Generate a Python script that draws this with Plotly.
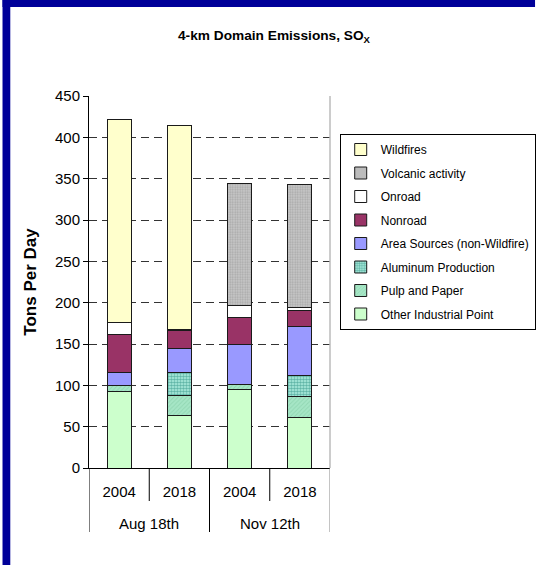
import plotly.graph_objects as go

# ---- data ----
groups = ["Aug 18th", "Aug 18th", "Nov 12th", "Nov 12th"]
years = ["2004", "2018", "2004", "2018"]

other_industrial = [93, 63, 94.5, 60.5]
pulp_paper = [7, 25, 7, 25.5]
aluminum = [0, 28, 0, 26]
area_sources = [16, 29, 48, 59.5]
nonroad = [45, 21, 32, 19.5]
onroad = [14.5, 2, 15, 3.5]
volcanic = [0, 0, 148, 148]
wildfires = [246, 246, 0, 0]

y_ticks = [0, 50, 100, 150, 200, 250, 300, 350, 400, 450]

series = [
    ("Other Industrial Point", other_industrial, dict(color="#CCFFCC")),
    ("Pulp and Paper", pulp_paper, dict(color="#99DDBB",
        pattern=dict(shape="/", size=3, solidity=0.3, fgcolor="#7CC8A0", bgcolor="#A6E6C6"))),
    ("Aluminum Production", aluminum, dict(color="#33AA99",
        pattern=dict(shape=".", size=3, solidity=0.6, fgcolor="#0E7A6A", bgcolor="#B4F2E4"))),
    ("Area Sources (non-Wildfire)", area_sources, dict(color="#9999FF")),
    ("Nonroad", nonroad, dict(color="#993366")),
    ("Onroad", onroad, dict(color="#FFFFFF")),
    ("Volcanic activity", volcanic, dict(color="#BBBBBB",
        pattern=dict(shape=".", size=2.5, solidity=0.45, fgcolor="#888888", bgcolor="#C8C8C8"))),
    ("Wildfires", wildfires, dict(color="#FFFFCC")),
]

FONT = "Arial, Liberation Sans, sans-serif"

# category positions on the x scale
xpos = list(range(len(years)))
group_names = list(dict.fromkeys(groups))
group_centers = [sum(i for i, g in enumerate(groups) if g == name) /
                 groups.count(name) for name in group_names]

fig = go.Figure()
n = len(series)
for i, (name, vals, mk) in enumerate(series):
    marker = dict(mk)
    marker["line"] = dict(color="#1a1a1a", width=1)
    fig.add_trace(go.Bar(
        name=name, x=xpos, y=vals, marker=marker,
        width=0.4, legendgroup=f"g{i}", legendrank=n - i,
        customdata=[[g, y] for g, y in zip(groups, years)],
        hovertemplate="%{customdata[0]} %{customdata[1]}<br>%{y}<extra>" + name + "</extra>",
    ))

W, H = 548, 565
L, R, T, B = 89, 211, 96, 97
pw, ph = W - L - R, H - T - B

def px_to_paper_x(px):
    return (px - L) / pw

def px_to_paper_y(py):
    return (H - B - py) / ph

shapes = [
    # blue slide frame (left and top)
    dict(type="rect", xref="paper", yref="paper", layer="below",
         x0=px_to_paper_x(0), x1=px_to_paper_x(8), y0=px_to_paper_y(H), y1=px_to_paper_y(0),
         fillcolor="#000099", line=dict(width=0)),
    dict(type="rect", xref="paper", yref="paper", layer="below",
         x0=px_to_paper_x(0), x1=px_to_paper_x(W), y0=px_to_paper_y(7), y1=px_to_paper_y(0),
         fillcolor="#000099", line=dict(width=0)),
    # right plot border
    dict(type="line", xref="paper", yref="paper", x0=1, x1=1, y0=0, y1=1,
         line=dict(color="#BBBBBB", width=1.5)),
]
# category boundaries below the axis
for k in range(len(years) + 1):
    xb = k - 0.5
    is_group_edge = (k == 0 or k == len(years) or groups[k - 1] != groups[k])
    depth = 64 if is_group_edge else 33
    color = "#888888" if k == len(years) else "black"
    shapes.append(dict(type="line", xref="x", yref="paper", x0=xb, x1=xb,
                       y0=0, y1=px_to_paper_y(H - B + depth),
                       line=dict(color=color, width=1)))

annotations = [
    dict(text=name, x=cx, xref="x", y=px_to_paper_y(523), yref="paper",
         xanchor="center", yanchor="middle", showarrow=False,
         font=dict(size=15, family=FONT, color="black"))
    for name, cx in zip(group_names, group_centers)
]

fig.update_layout(
    width=W, height=H,
    margin=dict(l=L, r=R, t=T, b=B),
    paper_bgcolor="white", plot_bgcolor="white",
    barmode="stack",
    font=dict(family=FONT, color="black", size=15),
    title=dict(text="<b>4-km Domain Emissions, SO<sub>X</sub></b>",
               x=0.5, xref="container", xanchor="center",
               y=1 - 35 / H, yref="container", yanchor="middle",
               font=dict(size=13.7, family=FONT, color="black")),
    showlegend=True,
    legend=dict(x=px_to_paper_x(347), y=px_to_paper_y(134), xanchor="left", yanchor="top",
                bordercolor="black", borderwidth=1, bgcolor="white",
                font=dict(size=12, family=FONT, color="black"),
                traceorder="grouped", tracegroupgap=4.5),
    shapes=shapes,
    annotations=annotations,
)

fig.update_yaxes(
    range=[0, 450], tickvals=y_ticks, ticktext=[str(v) for v in y_ticks],
    showline=True, linecolor="black", linewidth=1,
    ticks="outside", ticklen=5, tickcolor="black",
    showgrid=True, gridcolor="#333333", gridwidth=1, griddash="8px,5px",
    zeroline=False, tickfont=dict(size=15),
    title=dict(text="<b>Tons Per Day</b>", font=dict(size=17), standoff=14),
    automargin=False,
)
fig.update_xaxes(
    range=[-0.5, len(years) - 0.5],
    tickvals=xpos, ticktext=years,
    showline=True, linecolor="black", linewidth=1,
    ticks="", tickfont=dict(size=15), ticklabelstandoff=10,
    showgrid=False, zeroline=False, automargin=False,
)

fig.write_html("out.html")
